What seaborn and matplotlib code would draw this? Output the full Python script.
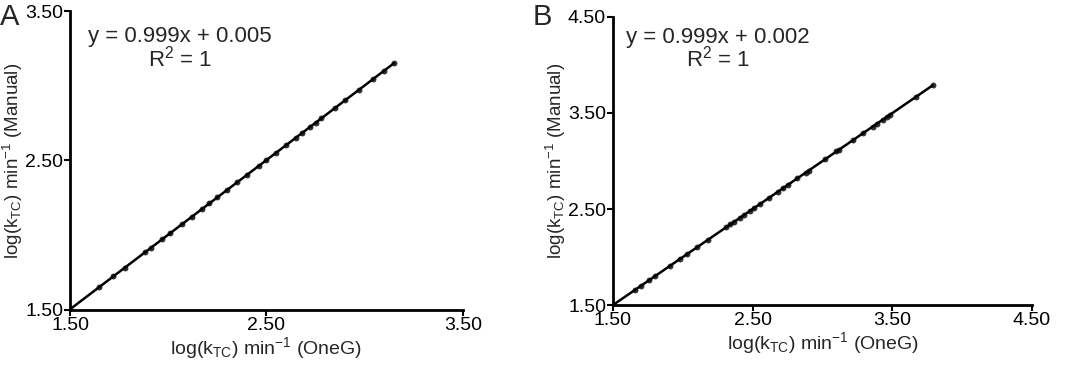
import numpy as np
import pandas as pd
import seaborn as sns
import matplotlib.pyplot as plt

oneg_a = [1.50, 1.65, 1.72, 1.78, 1.88, 1.91, 1.97, 2.01, 2.07, 2.12, 2.17, 2.21,
          2.25, 2.30, 2.35, 2.40, 2.46, 2.50, 2.55, 2.60, 2.65, 2.68, 2.72, 2.75,
          2.78, 2.85, 2.90, 2.97, 3.04, 3.10, 3.15]
manual_a = [1.505, 1.653, 1.724, 1.783, 1.884, 1.913, 1.973, 2.013, 2.073, 2.123, 2.173, 2.213,
            2.253, 2.302, 2.353, 2.402, 2.463, 2.502, 2.553, 2.603, 2.652, 2.683, 2.722, 2.752,
            2.782, 2.852, 2.902, 2.972, 3.042, 3.102, 3.152]

oneg_b = [1.50, 1.66, 1.70, 1.76, 1.80, 1.91, 1.98, 2.03, 2.10, 2.18, 2.31, 2.34,
          2.37, 2.41, 2.44, 2.48, 2.51, 2.55, 2.62, 2.68, 2.72, 2.75, 2.82, 2.88,
          2.90, 3.02, 3.10, 3.12, 3.22, 3.29, 3.36, 3.39, 3.43, 3.46, 3.48, 3.67, 3.79]
manual_b = [1.501, 1.660, 1.700, 1.760, 1.800, 1.910, 1.980, 2.030, 2.100, 2.180, 2.310, 2.340,
            2.370, 2.410, 2.440, 2.480, 2.509, 2.549, 2.619, 2.679, 2.719, 2.749, 2.819, 2.879,
            2.899, 3.019, 3.099, 3.119, 3.219, 3.289, 3.359, 3.389, 3.429, 3.459, 3.479, 3.669, 3.789]

eq_a = ['y = 0.999x + 0.005', 'R$^2$ = 1']
eq_b = ['y = 0.999x + 0.002', 'R$^2$ = 1']
ticks_a = [1.50, 2.50, 3.50]
ticks_b = [1.50, 2.50, 3.50, 4.50]

sns.set_style('ticks')
plt.rcParams['font.family'] = ['Liberation Sans', 'DejaVu Sans']
plt.rcParams['mathtext.fontset'] = 'custom'
plt.rcParams['mathtext.rm'] = 'Liberation Sans'
plt.rcParams['mathtext.it'] = 'Liberation Sans'

xlabel = r'log(k$_{\mathregular{TC}}$) min$^{\mathregular{-1}}$ (OneG)'
ylabel = r'log(k$_{\mathregular{TC}}$) min$^{\mathregular{-1}}$ (Manual)'

fig = plt.figure(figsize=(10.69, 3.68), dpi=100)
ax_a = fig.add_axes([0.0655, 0.158, 0.3675, 0.812])
ax_b = fig.add_axes([0.5734, 0.171, 0.392, 0.783])

# (eixo, x, y, ticks, equação, letra, posição x do texto, posição y do texto)
paineis = [
    (ax_a, oneg_a, manual_a, ticks_a, eq_a, 'A', 0.28, 0.915),
    (ax_b, oneg_b, manual_b, ticks_b, eq_b, 'B', 0.25, 0.93),
]

for ax, x, y, ticks, eq, letra, xt, yt in paineis:
    df = pd.DataFrame({'oneg': x, 'manual': y})
    sns.regplot(data=df, x='oneg', y='manual', ax=ax, ci=None, color='black',
                scatter_kws={'s': 18, 'linewidths': 0},
                line_kws={'linewidth': 1.8})
    ax.set_xlim(ticks[0], ticks[-1])
    ax.set_ylim(ticks[0], ticks[-1])
    ax.set_xticks(ticks)
    ax.set_yticks(ticks)
    ax.set_xticklabels([f'{t:.2f}' for t in ticks], fontsize=14)
    ax.set_yticklabels([f'{t:.2f}' for t in ticks], fontsize=14)
    ax.set_xlabel(xlabel, fontsize=14, labelpad=1)
    ax.set_ylabel(ylabel, fontsize=13.5, labelpad=0)
    ax.tick_params(length=4, width=1.5, pad=1, colors='black')
    for s in ['left', 'bottom']:
        ax.spines[s].set_linewidth(2)
        ax.spines[s].set_color('black')
    sns.despine(ax=ax)
    ax.text(xt, yt, eq[0], transform=ax.transAxes, ha='center', va='center', fontsize=16)
    ax.text(xt, yt - 0.075, eq[1], transform=ax.transAxes, ha='center', va='center', fontsize=16)

fig.text(0.0, 0.955, 'A', fontsize=21, ha='left', va='center')
fig.text(0.498, 0.955, 'B', fontsize=21, ha='left', va='center')

fig.savefig('out.png', dpi=100)
